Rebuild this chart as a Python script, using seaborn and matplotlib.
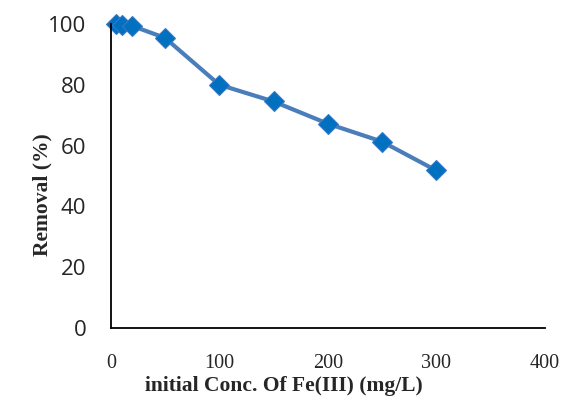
import matplotlib
matplotlib.use("Agg")
import matplotlib.pyplot as plt
import numpy as np
import pandas as pd
import seaborn as sns

# data
conc = [5, 10, 20, 50, 100, 150, 200, 250, 300]
removal = [99.9, 99.6, 99.3, 95.4, 80.0, 74.5, 67.2, 61.3, 51.8]
x_ticks = [0, 100, 200, 300, 400]
y_ticks = [0, 20, 40, 60, 80, 100]

df = pd.DataFrame({"conc": conc, "removal": removal})

sns.set_style("white")
fig = plt.figure(figsize=(5.71, 4.05), dpi=100)
ax = fig.add_axes([0.194, 0.19, 0.76, 0.751])

sns.lineplot(data=df, x="conc", y="removal", ax=ax, color="#4A7EBB",
             linewidth=3.0, marker="D", markersize=10,
             markerfacecolor="#0070C0", markeredgecolor="#3A78C0",
             markeredgewidth=0.8, clip_on=False)

ax.set_xlim(0, 400)
ax.set_ylim(0, 100)
ax.set_xticks(x_ticks)
ax.set_yticks(y_ticks)

for s in ["top", "right"]:
    ax.spines[s].set_visible(False)
for s in ["left", "bottom"]:
    ax.spines[s].set_color("black")
    ax.spines[s].set_linewidth(1.3)

ax.tick_params(axis="both", which="both", direction="out",
               width=1.0, color="black")
ax.tick_params(axis="x", length=5, pad=14)
ax.tick_params(axis="y", length=6.5, pad=11)

for lab in ax.get_xticklabels():
    lab.set_family("Liberation Serif")
    lab.set_fontsize(14.5)
for lab in ax.get_yticklabels():
    lab.set_family("Open Sans")
    lab.set_fontsize(16)

ax.set_xlabel("initial Conc. Of Fe(III) (mg/L)", family="Liberation Serif",
              fontweight="bold", fontsize=15.5, va="center")
ax.set_ylabel("Removal (%)", family="Liberation Serif",
              fontweight="bold", fontsize=15.5, va="center")
ax.xaxis.set_label_coords(0.399, -0.19)
ax.yaxis.set_label_coords(-0.157, 0.44)

fig.savefig("out.png", dpi=100)
